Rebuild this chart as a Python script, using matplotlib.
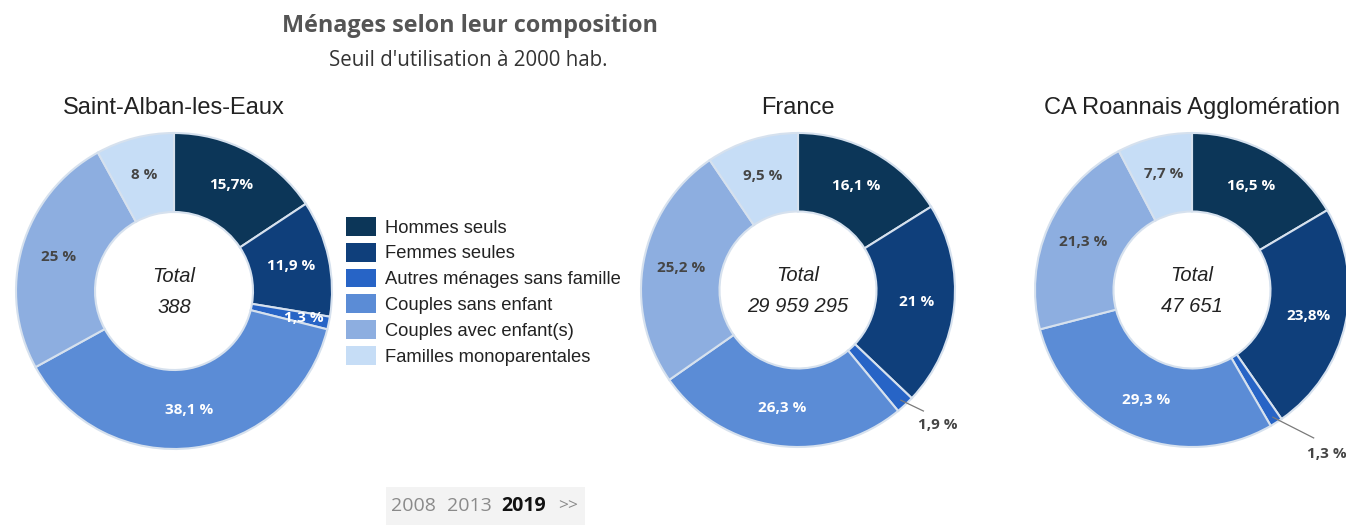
"""
Ménages selon leur composition - trois anneaux côte à côte.
"""

import numpy as np
import matplotlib
matplotlib.use("Agg")
import matplotlib.pyplot as plt
from matplotlib.patches import Patch, Rectangle

W, H = 1346, 525

categories = [
    "Hommes seuls",
    "Femmes seules",
    "Autres ménages sans famille",
    "Couples sans enfant",
    "Couples avec enfant(s)",
    "Familles monoparentales",
]
colors = ["#0c3658", "#0f3f7b", "#2764c6", "#5b8cd6", "#8daee0", "#c6ddf6"]

places = ["Saint-Alban-les-Eaux", "France", "CA Roannais Agglomération"]
totals = ["388", "29 959 295", "47 651"]

saint_alban = [15.7, 11.9, 1.3, 38.1, 25, 8]
france = [16.1, 21, 1.9, 26.3, 25.2, 9.5]
roannais = [16.5, 23.8, 1.3, 29.3, 21.3, 7.7]

saint_alban_labels = ["15,7%", "11,9 %", "1,3 %", "38,1 %", "25 %", "8 %"]
france_labels = ["16,1 %", "21 %", "1,9 %", "26,3 %", "25,2 %", "9,5 %"]
roannais_labels = ["16,5 %", "23,8%", "1,3 %", "29,3 %", "21,3 %", "7,7 %"]

years = ["2008", "2013", "2019"]

# layout (pixels): centre x, centre y, radius
layout = [(174, 291, 158), (798, 290, 157), (1192, 290, 157)]
# per-chart label tweaks: index -> (radius, angle shift in degrees, outside?)
tweaks = [
    {2: (0.84, 0, False)},
    {2: (1.24, -3, True)},
    {2: (1.35, -7, True)},
]

plt.rcParams["font.family"] = ["Liberation Sans", "DejaVu Sans"]

fig = plt.figure(figsize=(W / 100, H / 100), dpi=100)


def px(x, y):
    return x / W, 1 - y / H


def donut(values, labels, title, total, cx, cy, r, tweak):
    ax = fig.add_axes([(cx - r) / W, 1 - (cy + r) / H, 2 * r / W, 2 * r / H])
    ax.pie(values, colors=colors, startangle=90, counterclock=False, radius=1,
           wedgeprops=dict(width=0.5, edgecolor="#d6e1ee", linewidth=1.5))
    ax.set_xlim(-1, 1)
    ax.set_ylim(-1, 1)
    ax.set_aspect("equal")
    ax.axis("off")

    cum = np.cumsum([0] + list(values))
    tot = sum(values)
    for i, lab in enumerate(labels):
        mid = (cum[i] + values[i] / 2) / tot * 360
        rr, shift, outside = tweak.get(i, (0.76, 0, False))
        ang = np.radians(mid + shift)
        x, y = rr * np.sin(ang), rr * np.cos(ang)
        col = "white" if i < 4 and not outside else "#454545"
        if outside:
            a0 = np.radians(mid)
            ax.plot([0.96 * np.sin(a0), (rr - 0.13) * np.sin(ang)],
                    [0.96 * np.cos(a0), (rr - 0.13) * np.cos(ang)],
                    color="#7a7a7a", lw=0.9, clip_on=False)
        ax.text(x, y, lab, ha="center", va="center", fontsize=11,
                fontweight="bold", color=col, family=["Open Sans", "DejaVu Sans"],
                clip_on=False)

    ax.text(0, 0.09, "Total", ha="center", va="center", fontsize=14.5,
            style="italic", color="#222222")
    ax.text(0, -0.105, total, ha="center", va="center", fontsize=14.5,
            style="italic", color="#222222")
    fig.text(*px(cx, 108), title, ha="center", va="center", fontsize=17,
             color="#222222")


series = [saint_alban, france, roannais]
series_labels = [saint_alban_labels, france_labels, roannais_labels]
for k in range(3):
    cx, cy, r = layout[k]
    donut(series[k], series_labels[k], places[k], totals[k], cx, cy, r, tweaks[k])

# titles
fig.text(*px(470, 26), "Ménages selon leur composition", ha="center", va="center",
         fontsize=16.8, fontweight="bold", color="#555555", family="Open Sans")
fig.text(*px(468, 61), "Seuil d'utilisation à 2000 hab.", ha="center", va="center",
         fontsize=14.8, color="#333333", family="Open Sans")

# legend
handles = [Patch(facecolor=c, edgecolor="none") for c in colors]
fig.legend(handles, categories, loc="upper left", bbox_to_anchor=px(346, 217),
           frameon=False, fontsize=13.2, handlelength=1.65, handleheight=1.2,
           handletextpad=0.5, labelspacing=0.34, borderpad=0, borderaxespad=0,
           labelcolor="#222222")

# year selector
fig.patches.append(Rectangle(px(386, 525), 199 / W, 38 / H, transform=fig.transFigure,
                             facecolor="#f3f3f3", edgecolor="none"))
xs = [413, 469]
for yr, x in zip(years[:2], xs):
    fig.text(*px(x, 506), yr, ha="center", va="center", fontsize=14,
             color="#8a8a8a", family="Open Sans")
fig.text(*px(524, 506), years[2], ha="center", va="center", fontsize=14,
         fontweight="bold", color="#111111", family="Open Sans")
fig.text(*px(568, 506), ">>", ha="center", va="center", fontsize=12.5,
         color="#8a8a8a", family="Open Sans")

fig.savefig("out.png", dpi=100)
